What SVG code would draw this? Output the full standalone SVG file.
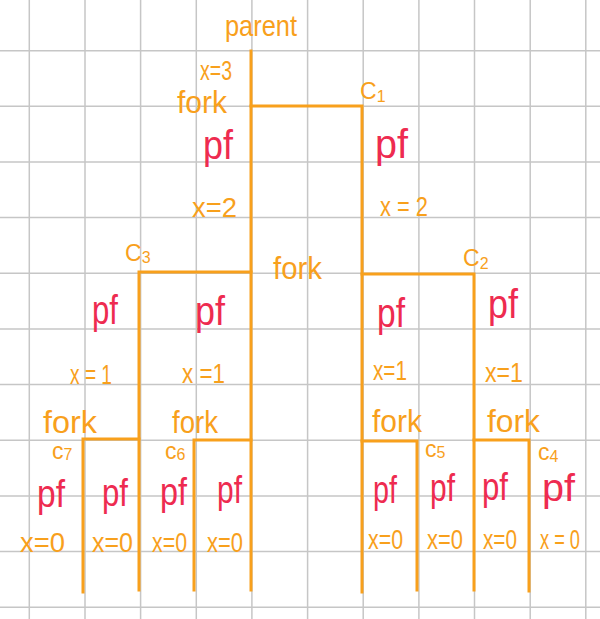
<svg xmlns="http://www.w3.org/2000/svg" width="600" height="619" viewBox="0 0 600 619">
<style>
.grid line{stroke:#c6c6c6;stroke-width:1.5}
.conn path{fill:none;stroke:#f8a01c;stroke-width:3;stroke-linecap:square}
text{font-family:"Liberation Sans","DejaVu Sans",sans-serif}
.o{fill:#f8a01c;font-size:27px}
.f{fill:#f8a01c;font-size:31px}
.c{fill:#f8a01c;font-size:23px}
.s{font-size:16px}
.p{fill:#f8a01c;font-size:30px}
.pf{fill:#ee2b50;font-size:41px}
.pfs{fill:#ee2b50;font-size:38px}
</style>
<rect width="600" height="619" fill="#ffffff"/>
<g class="grid">
<line x1="29.3" y1="0" x2="29.3" y2="619"/>
<line x1="85" y1="0" x2="85" y2="619"/>
<line x1="140.6" y1="0" x2="140.6" y2="619"/>
<line x1="196.3" y1="0" x2="196.3" y2="619"/>
<line x1="251.9" y1="0" x2="251.9" y2="619"/>
<line x1="307.6" y1="0" x2="307.6" y2="619"/>
<line x1="363.2" y1="0" x2="363.2" y2="619"/>
<line x1="418.9" y1="0" x2="418.9" y2="619"/>
<line x1="474.5" y1="0" x2="474.5" y2="619"/>
<line x1="530.2" y1="0" x2="530.2" y2="619"/>
<line x1="585.8" y1="0" x2="585.8" y2="619"/>
<line x1="0" y1="50.7" x2="600" y2="50.7"/>
<line x1="0" y1="106.3" x2="600" y2="106.3"/>
<line x1="0" y1="162" x2="600" y2="162"/>
<line x1="0" y1="217.6" x2="600" y2="217.6"/>
<line x1="0" y1="273.3" x2="600" y2="273.3"/>
<line x1="0" y1="329" x2="600" y2="329"/>
<line x1="0" y1="384.6" x2="600" y2="384.6"/>
<line x1="0" y1="440.3" x2="600" y2="440.3"/>
<line x1="0" y1="495.9" x2="600" y2="495.9"/>
<line x1="0" y1="551.6" x2="600" y2="551.6"/>
<line x1="0" y1="607.2" x2="600" y2="607.2"/>
</g>
<g class="conn" id="connectors">
<path d="M251 51 V590"/>
<path d="M251 106 H362 V592"/>
<path d="M251 272 H139 V590"/>
<path d="M362 274 H474 V590"/>
<path d="M139 439 H83 V592"/>
<path d="M251 440 H194 V590"/>
<path d="M362 441 H417 V590"/>
<path d="M474 440 H529 V591"/>
</g>
<g id="parent">
<text class="p" x="225" y="36" textLength="72" lengthAdjust="spacingAndGlyphs">parent</text>
<text class="o" x="200" y="80" textLength="32" lengthAdjust="spacingAndGlyphs">x=3</text>
<text class="f" x="177" y="113" textLength="50" lengthAdjust="spacingAndGlyphs">fork</text>
<text class="pf" x="203" y="159" textLength="30" lengthAdjust="spacingAndGlyphs">pf</text>
<text class="o" x="192" y="217" textLength="45" lengthAdjust="spacingAndGlyphs">x=2</text>
<text class="f" x="273" y="279" textLength="49" lengthAdjust="spacingAndGlyphs">fork</text>
<text class="pf" x="195" y="325" textLength="30" lengthAdjust="spacingAndGlyphs">pf</text>
<text class="o" x="182" y="383" textLength="43" lengthAdjust="spacingAndGlyphs">x =1</text>
<text class="f" x="172" y="433" textLength="46" lengthAdjust="spacingAndGlyphs">fork</text>
<text class="pfs" x="217" y="503" textLength="25" lengthAdjust="spacingAndGlyphs">pf</text>
<text class="o" x="207" y="552" textLength="36" lengthAdjust="spacingAndGlyphs">x=0</text>
</g>
<g id="c1">
<text class="c" x="360" y="99">C<tspan class="s" dy="3">1</tspan></text>
<text class="pf" x="375" y="158" textLength="33" lengthAdjust="spacingAndGlyphs">pf</text>
<text class="o" x="380" y="216" textLength="48" lengthAdjust="spacingAndGlyphs">x = 2</text>
<text class="pf" x="377" y="327" textLength="28" lengthAdjust="spacingAndGlyphs">pf</text>
<text class="o" x="373" y="380" textLength="34" lengthAdjust="spacingAndGlyphs">x=1</text>
<text class="f" x="372" y="432" textLength="50" lengthAdjust="spacingAndGlyphs">fork</text>
<text class="pfs" x="373" y="503" textLength="24" lengthAdjust="spacingAndGlyphs">pf</text>
<text class="o" x="368" y="549" textLength="35" lengthAdjust="spacingAndGlyphs">x=0</text>
</g>
<g id="c2">
<text class="c" x="463" y="266">C<tspan class="s" dy="3">2</tspan></text>
<text class="pf" x="488" y="318" textLength="30" lengthAdjust="spacingAndGlyphs">pf</text>
<text class="o" x="485" y="382" textLength="38" lengthAdjust="spacingAndGlyphs">x=1</text>
<text class="f" x="487" y="432" textLength="53" lengthAdjust="spacingAndGlyphs">fork</text>
<text class="pfs" x="482" y="500" textLength="26" lengthAdjust="spacingAndGlyphs">pf</text>
<text class="o" x="483" y="549" textLength="34" lengthAdjust="spacingAndGlyphs">x=0</text>
</g>
<g id="c3">
<text class="c" x="125" y="261">C<tspan class="s" dy="2">3</tspan></text>
<text class="pf" x="92" y="324" textLength="26" lengthAdjust="spacingAndGlyphs">pf</text>
<text class="o" x="70" y="384" textLength="42" lengthAdjust="spacingAndGlyphs">x = 1</text>
<text class="f" x="43" y="433" textLength="54" lengthAdjust="spacingAndGlyphs">fork</text>
<text class="pfs" x="102" y="506" textLength="26" lengthAdjust="spacingAndGlyphs">pf</text>
<text class="o" x="92" y="552" textLength="41" lengthAdjust="spacingAndGlyphs">x=0</text>
</g>
<g id="c4">
<text class="c" x="538" y="460">c<tspan class="s" dy="2">4</tspan></text>
<text class="pfs" x="542" y="501" textLength="33" lengthAdjust="spacingAndGlyphs">pf</text>
<text class="o" x="540" y="549" textLength="40" lengthAdjust="spacingAndGlyphs">x = 0</text>
</g>
<g id="c5">
<text class="c" x="425" y="457">c<tspan class="s" dy="1">5</tspan></text>
<text class="pfs" x="430" y="501" textLength="25" lengthAdjust="spacingAndGlyphs">pf</text>
<text class="o" x="427" y="549" textLength="36" lengthAdjust="spacingAndGlyphs">x=0</text>
</g>
<g id="c6">
<text class="c" x="165" y="459">c<tspan class="s" dy="1">6</tspan></text>
<text class="pfs" x="160" y="505" textLength="27" lengthAdjust="spacingAndGlyphs">pf</text>
<text class="o" x="152" y="552" textLength="35" lengthAdjust="spacingAndGlyphs">x=0</text>
</g>
<g id="c7">
<text class="c" x="52" y="459">c<tspan class="s" dy="1">7</tspan></text>
<text class="pfs" x="37" y="507" textLength="28" lengthAdjust="spacingAndGlyphs">pf</text>
<text class="o" x="20" y="552" textLength="45" lengthAdjust="spacingAndGlyphs">x=0</text>
</g>
</svg>
